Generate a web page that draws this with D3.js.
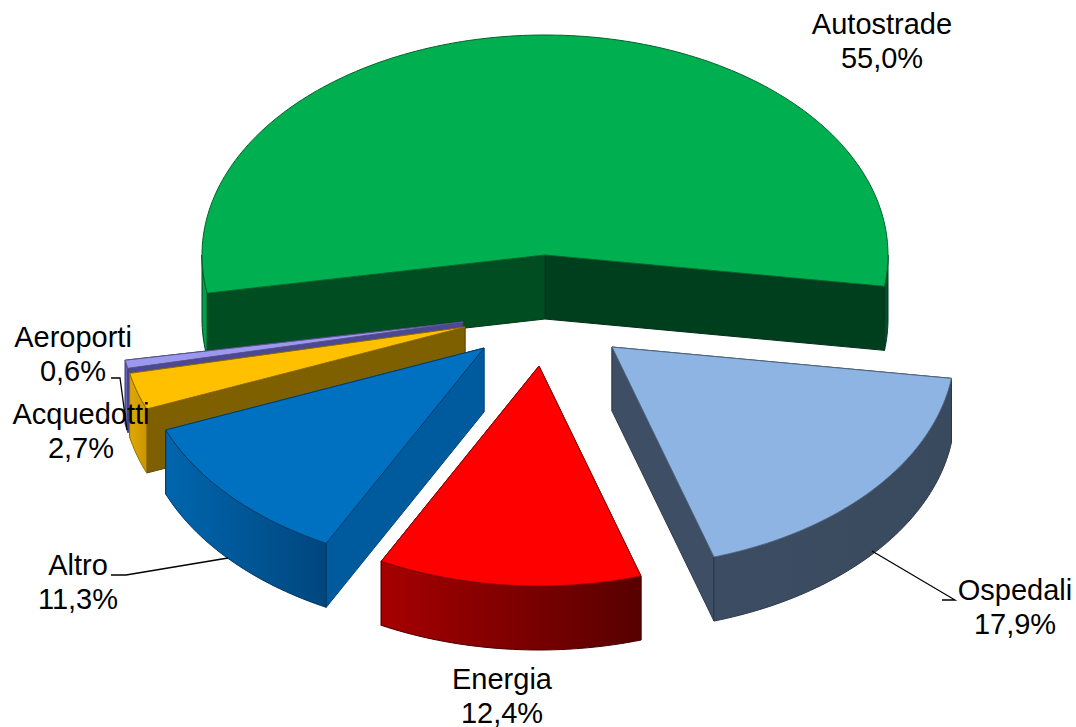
<!DOCTYPE html>
<html>
<head>
<meta charset="utf-8">
<script src="https://cdn.jsdelivr.net/npm/d3@7"></script>
<style>
  html, body { margin: 0; background: #fff; }
  svg { display: block; }
  text { font-family: "Liberation Sans", Arial, sans-serif; font-size: 29px; fill: #000; text-anchor: middle; }
</style>
</head>
<body>
<div id="chart"></div>
<script>
// data
const categories = ['Autostrade', 'Ospedali', 'Energia', 'Altro', 'Acquedotti', 'Aeroporti'];
const shares = [55.0, 17.9, 12.4, 11.3, 2.7, 0.6];

// look of each slice, same order as categories
const topColors = ['#00b050', '#8db4e2', '#ff0000', '#0070c0', '#ffc000', '#9c98f0'];
const rimColors = [['#00a04a', '#00502a'], ['#3c4c62', '#3a4a5e'], ['#a60000', '#580000'],
                   ['#0066ae', '#00467e'], ['#e0a800', '#c89600'], ['#7470c0', '#5c58a8']];
const startSideColors = ['#004d22', '#3e4e64', '#7a0000', '#005a9e', '#7f6000', '#4c4896'];
const endSideColors = ['#003f1e', '#3e4e64', '#7a0000', '#005a9e', '#7f6000', '#4c4896'];
const centers = [[545, 255], [612, 347], [539, 366], [484, 348], [465, 327], [463, 322]];
// painted back to front
const drawOrder = [0, 5, 4, 3, 1, 2];

// label anchors: x, first baseline
const labelAnchors = [[882, 34], [1015, 600], [502, 689], [78, 575], [81, 424], [73, 347]];
const leaderLines = [
  [[942, 600], [955, 600], [872, 551]],
  [[111, 575], [126, 575], [228, 558]],
  [[111, 378], [120, 378], [127, 430]]
];

const width = 1076, height = 727;
const radiusX = 343, radiusY = 220, depth = 64;

const svg = d3.select('#chart').append('svg')
  .attr('width', width)
  .attr('height', height);

const defs = svg.append('defs');

const pie = d3.pie()
  .sort(null)
  .startAngle(-100 * Math.PI / 180)
  .endAngle(260 * Math.PI / 180);

const arcs = pie(shares);

function rim(center, a, drop) {
  return [center[0] + radiusX * Math.sin(a),
          center[1] - radiusY * Math.cos(a) + drop];
}

function sampleAngles(a0, a1) {
  const n = Math.max(2, Math.ceil(Math.abs(a1 - a0) / 0.02));
  return d3.range(n + 1).map(i => a0 + (a1 - a0) * i / n);
}

// the parts of an angle range on the front half of the ellipse
function frontRanges(a0, a1) {
  const q = Math.PI / 2;
  return [[-3 * q, -q], [q, 3 * q]]
    .map(r => [Math.max(a0, r[0]), Math.min(a1, r[1])])
    .filter(r => r[1] > r[0]);
}

const line = d3.line();

arcs.forEach((d, i) => {
  const g = defs.append('linearGradient')
    .attr('id', 'rim-' + i)
    .attr('x1', '0%').attr('x2', '100%')
    .attr('y1', '0%').attr('y2', '0%');
  g.append('stop').attr('offset', '0%').attr('stop-color', rimColors[i][0]);
  g.append('stop').attr('offset', '100%').attr('stop-color', rimColors[i][1]);
});

drawOrder.forEach(i => {
  const d = arcs[i];
  const center = centers[i];
  const group = svg.append('g').attr('class', 'slice');

  // flat cut faces going down from the two radial edges, the one lower on screen goes last
  const faces = [[d.startAngle, startSideColors[i]], [d.endAngle, endSideColors[i]]]
    .sort((p, q) => rim(center, p[0], 0)[1] - rim(center, q[0], 0)[1]);
  faces.forEach(([a, color]) => {
    const outer = rim(center, a, 0);
    group.append('path')
      .attr('d', line([center, outer, [outer[0], outer[1] + depth], [center[0], center[1] + depth]]) + 'Z')
      .attr('fill', color)
      .attr('stroke', d3.color(color).darker(0.8).formatRgb())
      .attr('stroke-width', 1);
  });

  // curved outer wall, only the part that faces the viewer
  frontRanges(d.startAngle, d.endAngle).forEach(r => {
    const angles = sampleAngles(r[0], r[1]);
    const upper = angles.map(a => rim(center, a, 0));
    const lower = angles.map(a => rim(center, a, depth)).reverse();
    // the big slice has one sliver on each side, those stay flat
    const fill = i === 0 ? rimColors[0][r[0] < 0 ? 0 : 1] : `url(#rim-${i})`;
    group.append('path')
      .attr('d', line(upper.concat(lower)) + 'Z')
      .attr('fill', fill)
      .attr('stroke', d3.color(rimColors[i][1]).darker(0.8).formatRgb())
      .attr('stroke-width', 1);
  });

  // top surface
  const top = [center].concat(sampleAngles(d.startAngle, d.endAngle).map(a => rim(center, a, 0)));
  group.append('path')
    .attr('d', line(top) + 'Z')
    .attr('fill', topColors[i])
    .attr('stroke', d3.color(topColors[i]).darker(1.6).formatRgb())
    .attr('stroke-width', 1)
    .attr('stroke-linejoin', 'round');
});

leaderLines.forEach(pts => {
  svg.append('path')
    .attr('d', line(pts))
    .attr('fill', 'none')
    .attr('stroke', '#000')
    .attr('stroke-width', 1.3);
});

const formatShare = v => v.toFixed(1).replace('.', ',') + '%';

categories.forEach((name, i) => {
  const t = svg.append('text')
    .attr('x', labelAnchors[i][0])
    .attr('y', labelAnchors[i][1]);
  t.append('tspan').attr('x', labelAnchors[i][0]).text(name);
  t.append('tspan').attr('x', labelAnchors[i][0]).attr('dy', 34).text(formatShare(shares[i]));
});
</script>
</body>
</html>
